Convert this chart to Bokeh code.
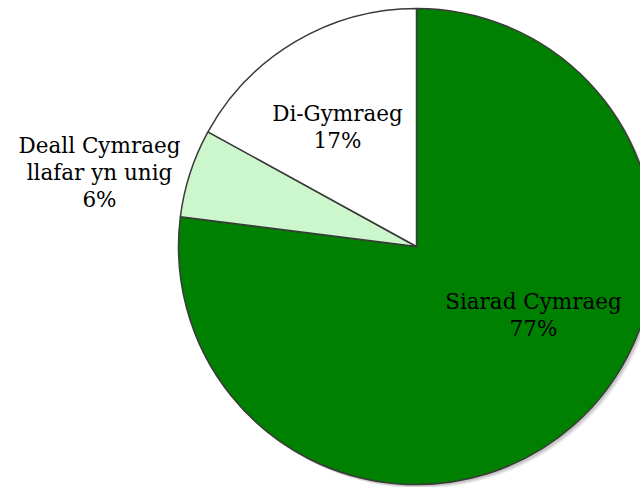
import numpy as np
from bokeh.plotting import figure
from bokeh.models import Range1d, ColumnDataSource
from bokeh.core.properties import value
from bokeh.embed import file_html
from bokeh.resources import INLINE

labels = ["Siarad Cymraeg", "Deall Cymraeg\nllafar yn unig", "Di-Gymraeg"]
values = [77, 6, 17]
colors = ["#008000", "#ccf7cc", "#ffffff"]

W, H = 640, 487
p = figure(width=W, height=H, output_backend="svg", toolbar_location=None,
           x_range=Range1d(0, W), y_range=Range1d(0, H), min_border=0)
p.axis.visible = False
p.grid.visible = False
p.outline_line_color = None
p.background_fill_color = "white"

cx, cy, r = 416, 241, 238
vals = np.array(values, dtype=float)
frac = vals / vals.sum()
cum = np.concatenate([[0], np.cumsum(frac)]) * 2 * np.pi
# clockwise from 12 o'clock
start = np.pi / 2 - cum[1:]
end = np.pi / 2 - cum[:-1]

# soft shadow
for d, a in [(4, 0.06), (3, 0.08), (2, 0.1)]:
    p.wedge(x=cx + d, y=cy - d, radius=r, start_angle=0, end_angle=2 * np.pi,
            fill_color="#000000", fill_alpha=a, line_color=None)

src = ColumnDataSource(dict(start=start, end=end, color=colors))
p.wedge(x=cx, y=cy, radius=r, start_angle="start", end_angle="end", source=src,
        fill_color="color", line_color="#3a3a3a", line_width=1.5)

# label anchors (centre of text block) in figure coordinates
label_pos = [(533, 173), (99, 315), (337, 361)]
pct = [f"{int(v)}%" for v in values]
tx, ty, tt = [], [], []
lh = 27
for (lx, ly), lab, pc in zip(label_pos, labels, pct):
    lines = lab.split("\n") + [pc]
    n = len(lines)
    for i, ln in enumerate(lines):
        tx.append(lx)
        ty.append(ly + (n - 1) / 2 * lh - i * lh)
        tt.append(ln)
p.text(x=tx, y=ty, text=tt, text_font=value("DejaVu Serif"), text_font_size="21.5px",
       text_align="center", text_baseline="middle", text_color="#000000")

open("out.html", "w").write(file_html(p, INLINE))
